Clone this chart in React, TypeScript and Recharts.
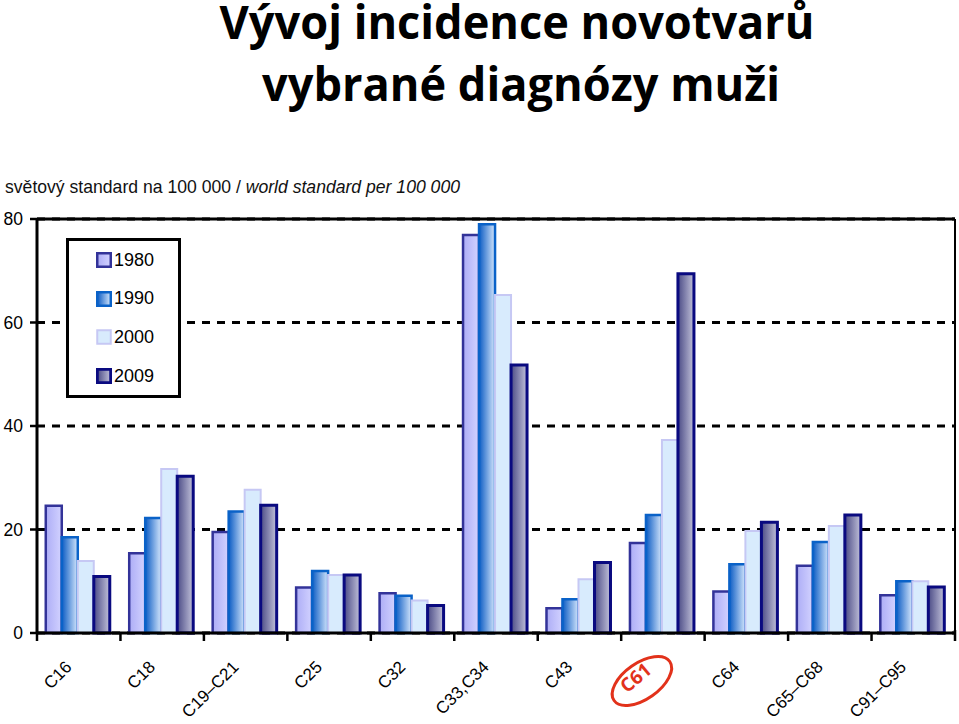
import React from 'react';
import { BarChart, Bar, XAxis, YAxis, CartesianGrid, Legend, ReferenceLine } from 'recharts';

const categories = ['C16', 'C18', 'C19–C21', 'C25', 'C32', 'C33,C34', 'C43', 'C61', 'C64', 'C65–C68', 'C91–C95'];
const seriesNames = ['1980', '1990', '2000', '2009'];
const v1980 = [24.6, 15.4, 19.5, 8.8, 7.7, 76.9, 4.8, 17.4, 8.0, 13.0, 7.3];
const v1990 = [18.5, 22.2, 23.5, 12.0, 7.2, 79.0, 6.5, 22.8, 13.3, 17.6, 10.0];
const v2000 = [13.9, 31.7, 27.7, 11.2, 6.3, 65.3, 10.4, 37.3, 19.7, 20.7, 10.0];
const v2009 = [10.9, 30.3, 24.7, 11.2, 5.3, 51.8, 13.6, 69.4, 21.4, 22.8, 8.9];
const yTicks = [0, 20, 40, 60, 80];
const highlighted = 'C61';

const seriesValues = [v1980, v1990, v2000, v2009];
const data = categories.map((c, i) => {
  const row: any = { name: c };
  seriesNames.forEach((s, k) => { row[s] = seriesValues[k][i]; });
  return row;
});

const W = 959;
const H = 724;
const M = { top: 219, right: 0, bottom: 0, left: 0 };
const Y_W = 37;
const YR_W = 4;
const X_H = 91;
const BAND = (W - Y_W - YR_W) / categories.length;

const styles = [
  { fill: 'url(#g1980)', stroke: '#333399', sw: 2.5 },
  { fill: 'url(#g1990)', stroke: '#0a62c8', sw: 2.5 },
  { fill: '#d8ebfd', stroke: '#c6c8f4', sw: 2 },
  { fill: 'url(#g2009)', stroke: '#0a0a80', sw: 3 },
];

const sans = "'Liberation Sans', Arial, sans-serif";
const RED = '#e2321b';

function CategoryTick(props: any) {
  const { x, y, payload, index } = props;
  const half = BAND / 2;
  const label = String(payload.value);
  const hi = label === highlighted;
  const ax = hi ? x - 10 : x - 6;
  const ay = hi ? y + 39 : y + 35;
  return (
    <g>
      <line x1={x - half} x2={x - half} y1={y} y2={y + 8} stroke="#000" strokeWidth={2.5} />
      {index === categories.length - 1 && (
        <line x1={x + half} x2={x + half} y1={y - 3} y2={y + 8} stroke="#000" strokeWidth={2.5} />
      )}
      {hi && (
        <ellipse
          cx={x - 21}
          cy={y + 48}
          rx={34}
          ry={18}
          transform={`rotate(-35 ${x - 21} ${y + 48})`}
          fill="none"
          stroke={RED}
          strokeWidth={3}
        />
      )}
      <text
        x={ax}
        y={ay}
        textAnchor="end"
        transform={`rotate(${hi ? -40 : -45} ${ax} ${ay})`}
        fontSize={hi ? 19 : 17}
        fontWeight={hi ? 700 : 400}
        fill={hi ? RED : '#000'}
        fontFamily={hi ? "'Open Sans', 'Liberation Sans', sans-serif" : sans}
      >
        {label}
      </text>
    </g>
  );
}

function renderLegend(props: any) {
  const payload = props.payload || [];
  return (
    <div
      style={{
        position: 'relative',
        width: 115,
        height: 160,
        border: '3px solid #000',
        boxSizing: 'border-box',
        background: '#fff',
      }}
    >
      {payload.map((p: any, i: number) => {
        const st = styles[i];
        return (
          <div
            key={i}
            style={{
              position: 'absolute',
              left: 27,
              top: 8 + i * 38.7,
              height: 22,
              display: 'flex',
              alignItems: 'center',
              fontFamily: sans,
              fontSize: 18,
              color: '#000',
            }}
          >
            <svg width={16} height={16} style={{ marginRight: 2 }}>
              <rect x={1.25} y={1.25} width={13.5} height={13.5} fill={st.fill} stroke={st.stroke} strokeWidth={st.sw} />
            </svg>
            <span>{p.value}</span>
          </div>
        );
      })}
    </div>
  );
}

export default function App() {
  return (
    <div style={{ position: 'fixed', left: 0, top: 0, width: W, height: H, background: '#fff', overflow: 'hidden' }}>
      <div style={{ position: 'absolute', left: 0, top: 0 }}>
        <BarChart width={W} height={H} data={data} margin={M} barCategoryGap="10.5%" barGap={0}>
          <defs>
            <linearGradient id="g1980" x1="0" y1="0" x2="1" y2="0">
              <stop offset="0%" stopColor="#adadf6" />
              <stop offset="100%" stopColor="#d2d2ff" />
            </linearGradient>
            <linearGradient id="g1990" x1="0" y1="0" x2="1" y2="0">
              <stop offset="0%" stopColor="#0c5cc4" />
              <stop offset="100%" stopColor="#d4e6fc" />
            </linearGradient>
            <linearGradient id="g2009" x1="0" y1="0" x2="1" y2="0">
              <stop offset="0%" stopColor="#4b4b86" />
              <stop offset="100%" stopColor="#c2c2da" />
            </linearGradient>
          </defs>
          <CartesianGrid vertical={false} stroke="#000" strokeDasharray="8 7" strokeWidth={3} />
          <XAxis
            dataKey="name"
            interval={0}
            height={X_H}
            tickSize={0}
            tickMargin={0}
            tickLine={false}
            axisLine={{ stroke: '#000', strokeWidth: 3 }}
            tick={<CategoryTick />}
          />
          <YAxis
            width={Y_W}
            domain={[0, 80]}
            ticks={yTicks}
            tickSize={7}
            tickMargin={7}
            axisLine={{ stroke: '#000', strokeWidth: 3 }}
            tickLine={{ stroke: '#000', strokeWidth: 2.5 }}
            tick={{ fill: '#000', fontSize: 17.5, fontFamily: sans }}
          />
          <YAxis
            yAxisId="r"
            orientation="right"
            width={YR_W}
            domain={[0, 80]}
            ticks={yTicks}
            tick={false}
            tickLine={false}
            axisLine={{ stroke: '#000', strokeWidth: 2 }}
          />
          <ReferenceLine y={80} stroke="#000" strokeWidth={3} />
          <Legend
            layout="vertical"
            align="center"
            verticalAlign="middle"
            content={renderLegend}
            wrapperStyle={{ position: 'absolute', left: 66, top: 238, width: 115, height: 160 }}
          />
          {seriesNames.map((s, k) => (
            <Bar
              key={s}
              dataKey={s}
              name={s}
              fill={styles[k].fill}
              stroke={styles[k].stroke}
              strokeWidth={styles[k].sw}
              isAnimationActive={false}
            />
          ))}
        </BarChart>
      </div>
      <svg width={W} height={H} style={{ position: 'absolute', left: 0, top: 0, pointerEvents: 'none' }}>
        <text
          x={517}
          y={39}
          textAnchor="middle"
          fontFamily="'Liberation Sans Narrow', 'Open Sans', sans-serif"
          fontWeight={700}
          fontSize={46}
          textLength={595}
          lengthAdjust="spacingAndGlyphs"
        >
          Vývoj incidence novotvarů
        </text>
        <text
          x={521}
          y={101}
          textAnchor="middle"
          fontFamily="'Liberation Sans Narrow', 'Open Sans', sans-serif"
          fontWeight={700}
          fontSize={47}
          textLength={518}
          lengthAdjust="spacingAndGlyphs"
        >
          vybrané diagnózy muži
        </text>
        <text x={5} y={193} fontFamily={sans} fontSize={18.5} fill="#111" textLength={455} lengthAdjust="spacingAndGlyphs">
          světový standard na 100 000 / <tspan fontStyle="italic">world standard per 100 000</tspan>
        </text>
      </svg>
    </div>
  );
}
